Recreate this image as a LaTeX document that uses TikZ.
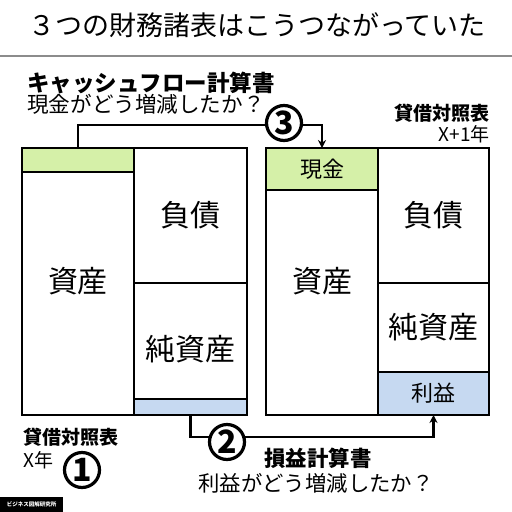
\documentclass[tikz,border=0pt]{standalone}
\usepackage{fontspec}
\setmainfont{Noto Sans CJK JP}
\usetikzlibrary{arrows.meta, positioning}
\definecolor{cashgreen}{HTML}{D5F0A8}
\definecolor{profitblue}{HTML}{C6D9F1}
\newcommand{\fsz}[1]{\fontsize{#1}{#1}\selectfont}

\begin{document}
\begin{tikzpicture}[x=1pt, y=-1pt,
        cell/.style={draw, rectangle, line width=2.8pt, anchor=north west, inner sep=0pt, outer sep=0pt, font=\fsz{30}},
        cashcell/.style={cell, fill=cashgreen, font=\fsz{22}},
        profitcell/.style={cell, fill=profitblue, font=\fsz{22}},
        numcircle/.style={draw, circle, line width=3.2pt, fill=white, minimum size=35pt, inner sep=0pt, font=\bfseries\fsz{32}},
        link/.style={line width=2.6pt, -{Stealth[length=8pt, width=8pt]}},
        heading/.style={inner sep=0pt, font=\bfseries\fsz{#1}},
        note/.style={inner sep=0pt, font=\fsz{#1}}
    ]
        \fill[white] (0,0) rectangle (512,512);
        \useasboundingbox (0,0) rectangle (512,512);

        % title
        \node[note=27] (title) at (257,25) {３つの財務諸表はこうつながっていた};
        \draw[gray!90, line width=2pt] (0,56) -- (512,56);

        % balance sheet, year X
        \node[cell, minimum width=112, minimum height=267] (l-asset) at (22,148) {資産};
        \node[cashcell, minimum width=112, minimum height=24] (l-cash) at (22,148) {};
        \node[cell, minimum width=113, minimum height=135] (l-debt) at (134,148) {負債};
        \node[cell, minimum width=113, minimum height=132] (l-equity) at (134,283) {純資産};
        \node[profitcell, minimum width=113, minimum height=16] (l-profit) at (134,399) {};

        % balance sheet, year X+1
        \node[cell, minimum width=112, minimum height=267] (r-asset) at (266,148) {資産};
        \node[cashcell, minimum width=112, minimum height=42] (r-cash) at (266,148) {現金};
        \node[cell, minimum width=111, minimum height=135] (r-debt) at (378,148) {負債};
        \node[cell, minimum width=111, minimum height=89] (r-equity) at (378,283) {純資産};
        \node[profitcell, minimum width=111, minimum height=43] (r-profit) at (378,372) {利益};

        % links
        \draw[link] (l-cash.north) -- ++(0,-23) -| (r-cash.north);
        \draw[link] (l-profit.south) -- ++(0,22) -| (r-profit.south);
        \node[numcircle] (c3) at (284,123) {3};
        \node[numcircle] (c2) at (227,442) {2};
        \node[numcircle] (c1) at (82,470) {1};

        % captions
        \node[heading=22.5, anchor=west] (cf-title) at (27,83) {キャッシュフロー計算書};
        \node[note=21.6, anchor=west] (cf-sub) at (27,104) {現金がどう増減したか？};
        \node[heading=19, anchor=east] (r-title) at (490,113) {貸借対照表};
        \node[note=19, anchor=east] (r-year) at (490,134) {X+1年};
        \node[heading=19, anchor=west] (l-title) at (23,437) {貸借対照表};
        \node[note=19, anchor=west] (l-year) at (23,460) {X年};
        \node[heading=21.4] (pl-title) at (318,458) {損益計算書};
        \node[note=21.4] (pl-sub) at (316,483) {利益がどう増減したか？};

        % credit
        \node[fill=black, text=white, anchor=south west, minimum width=63, minimum height=15, inner sep=0pt, font=\bfseries\fsz{5.5}] (credit) at (0,512) {ビジネス図解研究所};
    \end{tikzpicture}
\end{document}
